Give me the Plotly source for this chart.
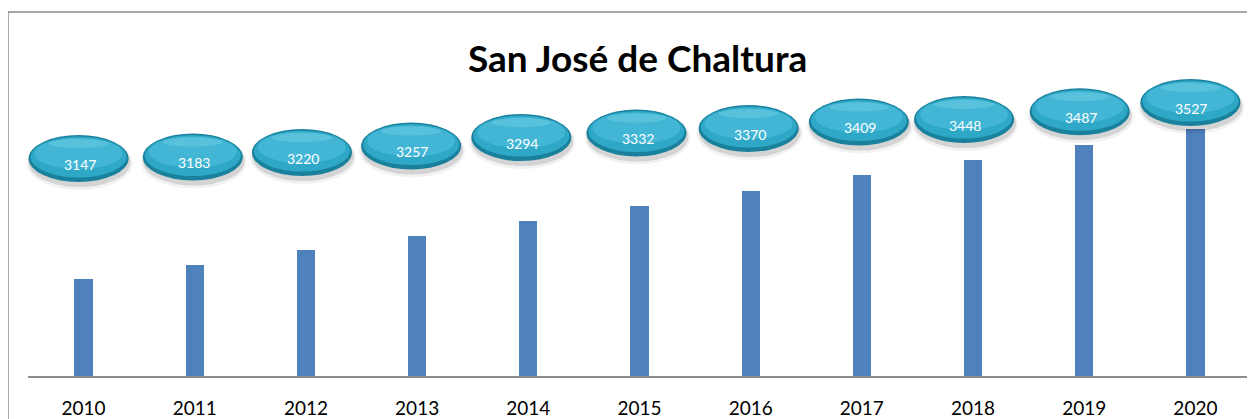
import plotly.graph_objects as go

# ---- data ----
years = ["2010", "2011", "2012", "2013", "2014", "2015", "2016", "2017", "2018", "2019", "2020"]
population = [3147, 3183, 3220, 3257, 3294, 3332, 3370, 3409, 3448, 3487, 3527]
title_text = "San José de Chaltura"

# ---- layout of the bubble labels (pixels above the axis line / shift from bar centre) ----
label_rise_px = [217.5, 219, 223.5, 230, 238.5, 243, 247.5, 254, 256.5, 264.3, 273.5]
label_dx_px = [-5, -2, -4, -6, -7, -3, -2, -3, -9, -4.5, -5]

Y_MIN, Y_MAX = 2903, 3602
BAR_COLOR = "#4f81bd"

# figure is drawn inside a page with an 8px body margin
FW, FH = 1247, 411
pl, pr, pt, pb = 20, 4, 91, 43
pw, ph = FW - pl - pr, FH - pt - pb
n = len(years)

fig = go.Figure()
fig.add_trace(go.Bar(
    x=list(range(n)), y=population,
    marker=dict(color=BAR_COLOR, line=dict(width=0)),
    width=0.165, hoverinfo="x+y",
))

shapes = []
annotations = []
W, H = 100, 47
for i, (v, rise, dx) in enumerate(zip(population, label_rise_px, label_dx_px)):
    xa = (i + 0.5) / n

    def ell(w, h, cy_off, fill, cx_off=0.0):
        return dict(type="circle", xref="paper", yref="paper",
                    xsizemode="pixel", ysizemode="pixel",
                    xanchor=xa, yanchor=0,
                    x0=dx + cx_off - w / 2, x1=dx + cx_off + w / 2,
                    y0=rise + cy_off - h / 2, y1=rise + cy_off + h / 2,
                    fillcolor=fill, line=dict(width=0), layer="above")
    # soft shadow
    shapes.append(ell(W + 6, H + 6, -5, "rgba(0,0,0,0.05)", 1))
    shapes.append(ell(W + 2, H + 2, -4, "rgba(0,0,0,0.12)", 1))
    # dark rim
    shapes.append(ell(W, H, 0, "#1a819d"))
    # body
    shapes.append(ell(W - 4, H - 6, 1.5, "#2ea8c6"))
    # lighter upper part
    shapes.append(ell(W - 12, H - 16, 5, "rgba(90,200,228,0.45)"))
    # top highlight
    shapes.append(ell(W - 40, 9, 15, "rgba(170,235,250,0.22)"))
    annotations.append(dict(
        x=xa, y=0, xref="paper", yref="paper", text=str(v), showarrow=False,
        xshift=dx + 1, yshift=rise - 5.5, yanchor="middle", xanchor="center",
        font=dict(family="Lato, sans-serif", size=14, color="white"),
    ))

# outer chart frame
shapes.append(dict(type="rect", xref="paper", yref="paper",
                   x0=(0 - pl) / pw, x1=(FW + 10 - pl) / pw,
                   y0=(pt + ph - FH - 20) / ph, y1=(pt + ph - 4) / ph,
                   line=dict(color="#8a8a8a", width=1.5), fillcolor="rgba(0,0,0,0)", layer="below"))

annotations.append(dict(
    x=(629 - pl) / pw, y=(pt + ph - 49) / ph, xref="paper", yref="paper",
    text="<b>" + title_text + "</b>", showarrow=False, xanchor="center", yanchor="middle",
    font=dict(family="Lato, sans-serif", size=37, color="black"),
))

fig.update_layout(
    width=FW, height=FH,
    margin=dict(l=pl, r=pr, t=pt, b=pb, pad=0, autoexpand=False),
    paper_bgcolor="white", plot_bgcolor="white",
    showlegend=False,
    shapes=shapes, annotations=annotations,
    bargap=0,
    xaxis=dict(
        tickmode="array", tickvals=list(range(n)), ticktext=years,
        range=[-0.5, n - 0.5],
        showline=True, linecolor="#8c8c8c", linewidth=1.5,
        showgrid=False, zeroline=False, ticks="",
        ticklabelstandoff=14, automargin=False,
        tickfont=dict(family="Lato, sans-serif", size=19, color="black"),
    ),
    yaxis=dict(range=[Y_MIN, Y_MAX], visible=False, showgrid=False, zeroline=False),
)

fig.write_html("out.html")
